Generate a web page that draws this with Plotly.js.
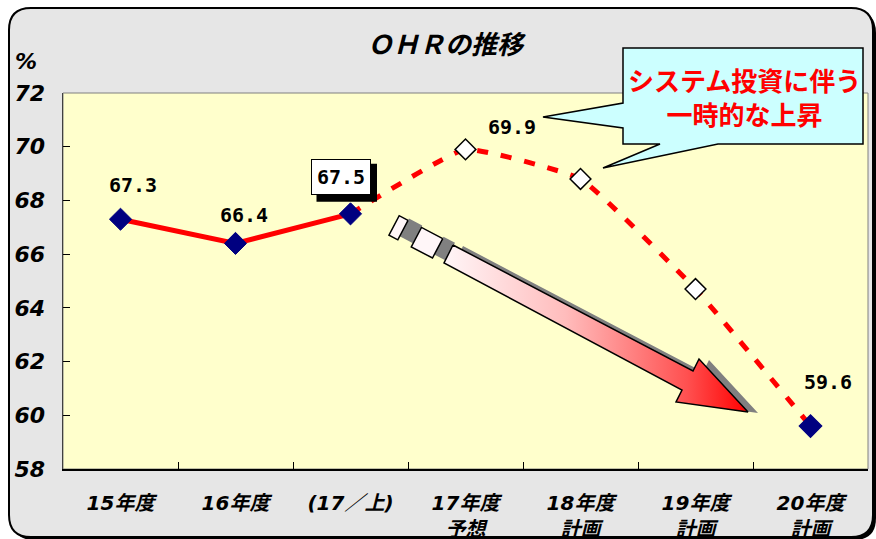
<!DOCTYPE html>
<html>
<head>
<meta charset="utf-8">
<script src="https://cdn.plot.ly/plotly-3.0.1.min.js"></script>
<style>
html,body{margin:0;padding:0;background:#fff;}
#chart{width:876px;height:539px;}
</style>
</head>
<body>
<div id="chart"></div>
<script>
// ---- data ----
const categories = ['15年度','16年度','(17／上)','17年度<br>予想','18年度<br>計画','19年度<br>計画','20年度<br>計画'];
const actualValues = [67.3, 66.4, 67.5, null, null, null, null];
const planValues = [null, null, 67.5, 69.9, 68.8, 64.7, 59.6];
const yTickValues = [58, 60, 62, 64, 66, 68, 70, 72];
const titleText = 'ＯＨＲの推移';
const unitText = '%';
const calloutText = 'システム投資に伴う<br>一時的な上昇';

// ---- geometry helpers (pixel -> paper) ----
const W = 876, H = 539;
const M = {l: 63, r: 8, t: 93, b: 70};
const PW = W - M.l - M.r, PH = H - M.t - M.b;
const px = x => (x - M.l) / PW;
const py = y => (H - M.b - y) / PH;
function pathFromPx(pts, close) {
  let s = '';
  pts.forEach((p, i) => {
    if (p[0] === 'Q') s += ` Q ${px(p[1])},${py(p[2])} ${px(p[3])},${py(p[4])}`;
    else s += (i === 0 ? 'M ' : ' L ') + px(p[0]) + ',' + py(p[1]);
  });
  return s + (close ? ' Z' : '');
}
function roundRect(x0, y0, x1, y1, r) {
  return pathFromPx([
    [x0 + r, y0], [x1 - r, y0], ['Q', x1, y0, x1, y0 + r],
    [x1, y1 - r], ['Q', x1, y1, x1 - r, y1],
    [x0 + r, y1], ['Q', x0, y1, x0, y1 - r],
    [x0, y0 + r], ['Q', x0, y0, x0 + r, y0]
  ], true);
}

const fontCJK = '"Noto Sans CJK JP", "Noto Sans", sans-serif';
const fontMix = '"DejaVu Sans", "Noto Sans CJK JP", sans-serif';
const fontMono = '"DejaVu Sans Mono", "Liberation Mono", monospace';

// ---- data traces ----
const lastIdx = planValues.length - 1;
const traces = [
  {
    x: categories, y: planValues, type: 'scatter', mode: 'lines+markers',
    line: {color: '#FF0000', width: 5, dash: '11px,13px', shape: 'spline', smoothing: 0.35},
    marker: {
      symbol: 'diamond', opacity: 1,
      size: planValues.map((v, i) => (i === 2 ? 0 : (i === lastIdx ? 17 : 16))),
      color: planValues.map((v, i) => (i === lastIdx ? '#000080' : '#FFFFFF')),
      line: {color: planValues.map((v, i) => (i === lastIdx ? '#000080' : '#000000')), width: 1.5}
    },
    hoverinfo: 'skip', showlegend: false, connectgaps: false
  },
  {
    x: categories, y: actualValues, type: 'scatter', mode: 'lines+markers',
    line: {color: '#FF0000', width: 5},
    marker: {symbol: 'diamond', size: 17, opacity: 1, color: '#000080', line: {color: '#000080', width: 1}},
    hoverinfo: 'skip', showlegend: false
  }
];

// ---- decorative arrow (pixel overlay axes) ----
const O = [448.5, 254], U = [0.885, 0.465], N = [-0.465, 0.885];
function rectPts(tc, hl, hw, off) {
  const c = [O[0] + tc * U[0] + off * N[0], O[1] + tc * U[1] + off * N[1]];
  const pts = [[hl, -hw], [hl, hw], [-hl, hw], [-hl, -hw], [hl, -hw]];
  return pts.map(p => [c[0] + p[0] * U[0] + p[1] * N[0], c[1] + p[0] * U[1] + p[1] * N[1]]);
}
function polyTrace(pts, fill, lineColor, lw, extra) {
  return Object.assign({
    x: pts.map(p => p[0]), y: pts.map(p => p[1]), xaxis: 'x2', yaxis: 'y2',
    type: 'scatter', mode: 'lines', fill: 'toself', fillcolor: fill,
    line: {color: lineColor, width: lw}, hoverinfo: 'skip', showlegend: false
  }, extra || {});
}
const arrowPts = [[453,245],[693,371],[699,359],[748,412],[676,402],[682,390],[444,263],[453,245]];
const shadowPts = arrowPts.map(p => [p[0] + 10, p[1] + 1]);
traces.push(polyTrace(rectPts(-44, 7.5, 10, -3), '#808080', 'rgba(0,0,0,0)', 0));
traces.push(polyTrace(rectPts(-6, 6.5, 10, -3), '#808080', 'rgba(0,0,0,0)', 0));
traces.push(polyTrace(shadowPts, '#808080', 'rgba(0,0,0,0)', 0));
traces.push(polyTrace(rectPts(-56.5, 5, 11, 0), '#FFF6F8', '#000000', 1.5));
traces.push(polyTrace(rectPts(-24.3, 12, 11, 0), '#FFF6F8', '#000000', 1.5));
traces.push(polyTrace(arrowPts, '#FF8080', '#000000', 1.5, {
  fillgradient: {type: 'horizontal', colorscale: [[0, '#FFF6F8'], [0.4, '#FFBCBC'], [0.8, '#FF5050'], [1, '#FF0000']]}
}));

// ---- annotations ----
const labelFont = {family: fontMono, size: 20, color: '#000000', weight: 'bold'};
const annotations = [];
function valueLabel(i, v, xs, ys, extra) {
  annotations.push(Object.assign({x: categories[i], y: v, xref: 'x', yref: 'y', text: v.toFixed(1),
    showarrow: false, xshift: xs, yshift: ys, font: labelFont, xanchor: 'center', yanchor: 'middle'}, extra || {}));
}
valueLabel(0, actualValues[0], 12, 34);
valueLabel(1, actualValues[1], 8, 28);
valueLabel(2, actualValues[2], -10, 37, {bgcolor: '#FFFFFF', bordercolor: '#000000', borderwidth: 1, borderpad: 5});
valueLabel(3, planValues[3], 46, 22);
valueLabel(6, planValues[6], 17, 44);
// callout text
annotations.push({x: px(744), y: py(97), xref: 'paper', yref: 'paper', xanchor: 'center', yanchor: 'middle',
  text: calloutText, showarrow: false,
  font: {family: fontCJK, size: 26, color: '#FF0000', weight: 'bold'}, align: 'center'});
// unit
annotations.push({x: px(26), y: py(61), xref: 'paper', yref: 'paper', xanchor: 'center', yanchor: 'middle',
  text: unitText, showarrow: false,
  font: {family: fontMix, size: 22, color: '#000000', weight: 'bold', style: 'italic'}});

// ---- shapes ----
const calloutPts = [[623,48],[863,48],[863,144],[718,144],[603,168],[660,144],[623,144],[623,128],[543,117],[623,103]];
const shapes = [
  {type: 'path', xref: 'paper', yref: 'paper', layer: 'below', path: roundRect(12, 11, 876, 540, 22),
   fillcolor: '#000000', line: {width: 0}},
  {type: 'path', xref: 'paper', yref: 'paper', layer: 'below', path: roundRect(9, 8, 873, 537, 22),
   fillcolor: '#E6E6E6', line: {color: '#000000', width: 2}},
  {type: 'rect', xref: 'paper', yref: 'paper', layer: 'below', x0: 0, x1: 1, y0: 0, y1: 1,
   fillcolor: '#FFFFCC', line: {color: '#808080', width: 1}},
  // drop shadow behind the boxed (17/上) label, anchored to that data point
  {type: 'rect', xref: 'x', yref: 'y', layer: 'above', xsizemode: 'pixel', ysizemode: 'pixel',
   xanchor: 2, yanchor: actualValues[2], x0: -34, x1: 26.5, y0: 12, y1: 50,
   fillcolor: '#000000', line: {width: 0}},
  {type: 'path', xref: 'paper', yref: 'paper', layer: 'above', path: pathFromPx(calloutPts, true),
   fillcolor: '#CCFFFF', line: {color: '#000000', width: 1.5}}
];

const layout = {
  width: W, height: H,
  margin: M,
  paper_bgcolor: '#FFFFFF',
  plot_bgcolor: 'rgba(0,0,0,0)',
  showlegend: false,
  title: {text: titleText, x: 445 / W, xref: 'container', xanchor: 'center',
    y: 1 - 45 / H, yref: 'container', yanchor: 'middle',
    font: {family: fontCJK, size: 26, color: '#000000', weight: 'bold', style: 'italic'}},
  xaxis: {
    type: 'category', categoryorder: 'array', categoryarray: categories,
    range: [-0.5, categories.length - 0.5], fixedrange: true,
    showgrid: false, zeroline: false, showline: true, linecolor: '#000000', linewidth: 1.5,
    ticks: 'inside', tickson: 'boundaries', ticklen: 7, tickcolor: '#000000', tickwidth: 1,
    ticklabelstandoff: 15,
    tickfont: {family: fontMix, size: 20, color: '#000000', weight: 'bold', style: 'italic'}
  },
  yaxis: {
    range: [58, 72], tickvals: yTickValues, ticktext: yTickValues.map(String), fixedrange: true,
    showgrid: false, zeroline: false, showline: true, linecolor: '#404040', linewidth: 1.5,
    ticks: 'inside', ticklen: 7, tickcolor: '#000000', tickwidth: 1,
    ticklabelstandoff: 12,
    tickfont: {family: fontMix, size: 22, color: '#000000', weight: 'bold', style: 'italic'}
  },
  xaxis2: {overlaying: 'x', range: [M.l, W - M.r], visible: false, fixedrange: true},
  yaxis2: {overlaying: 'y', range: [H - M.b, M.t], visible: false, fixedrange: true},
  shapes: shapes,
  annotations: annotations
};

Plotly.newPlot('chart', traces, layout, {displayModeBar: false, staticPlot: true});
</script>
</body>
</html>
